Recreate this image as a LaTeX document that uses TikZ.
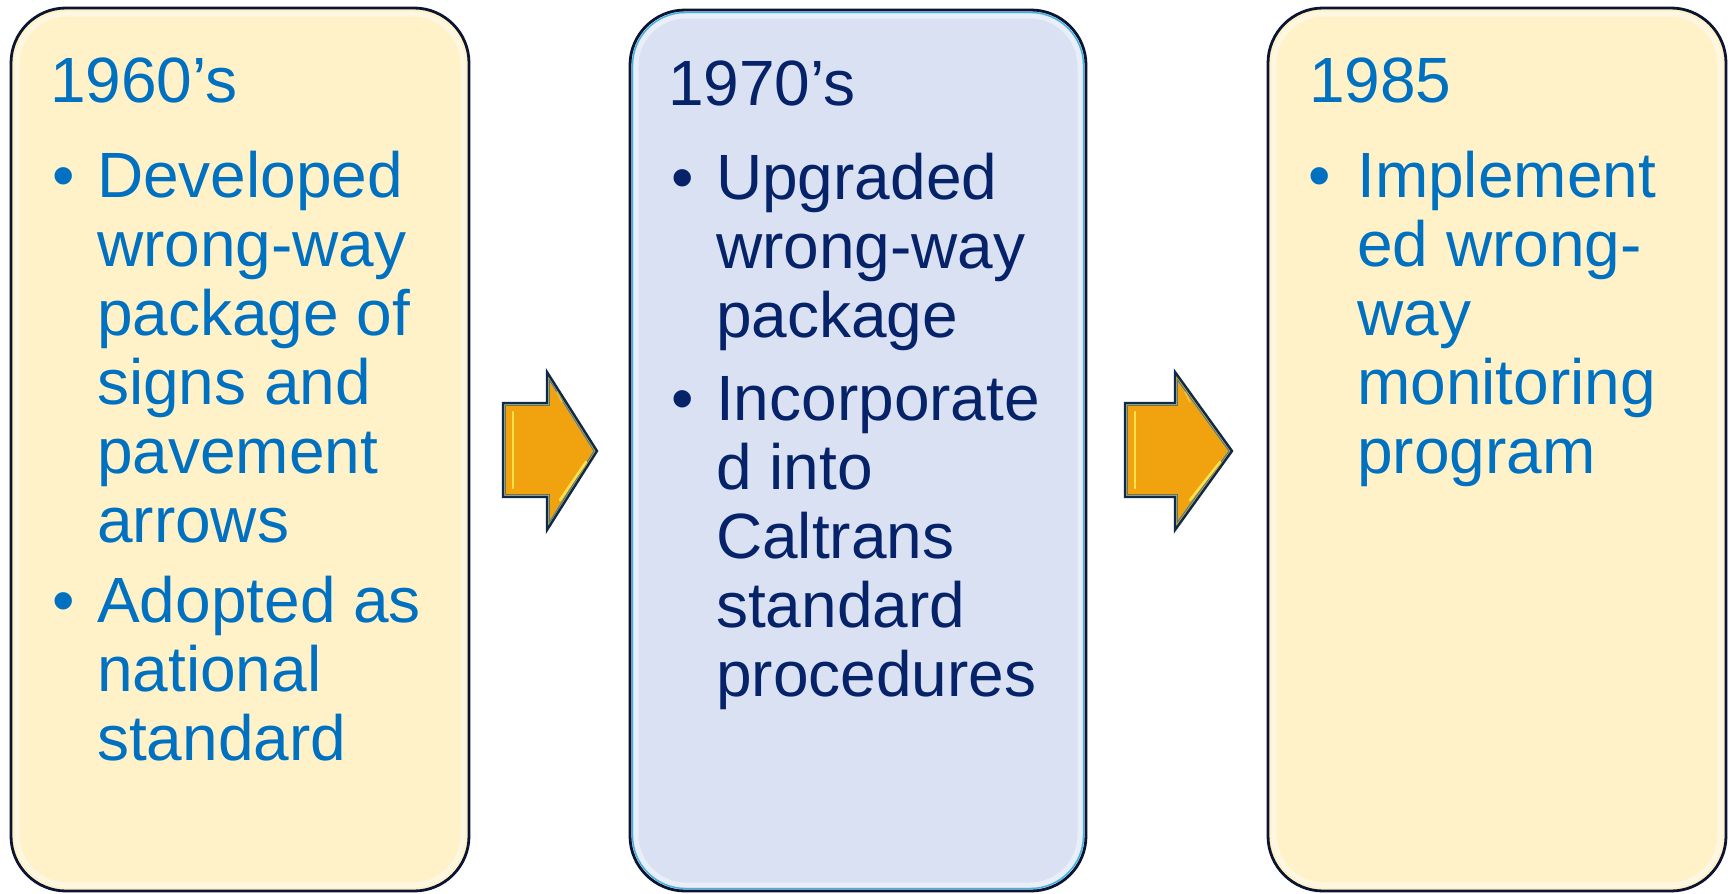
\documentclass[tikz,border=0pt]{standalone}
\usepackage{fontspec}
\setmainfont{Liberation Sans}
\definecolor{cream}{HTML}{FFF2C9}
\definecolor{paleblue}{HTML}{D9E1F3}
\definecolor{txtblue}{HTML}{0070C0}
\definecolor{txtnavy}{HTML}{062268}
\definecolor{edge}{HTML}{0B1533}
\definecolor{cyanedge}{HTML}{3FB2DE}
\definecolor{arrfill}{HTML}{F0A30F}
\definecolor{arrlight}{HTML}{FFE24A}
\definecolor{arredge}{HTML}{0E2A4A}
\definecolor{arrblue}{HTML}{2F7FC0}
\tikzset{
  panel/.style={draw=edge, line width=2.8pt, rounded corners=55pt},
  gloss/.style={draw=white, line width=5pt, opacity=0.45, rounded corners=50pt},
  line/.style={anchor=base west, inner sep=0pt, font=\fontsize{64}{69}\selectfont},
  bul/.style={anchor=base, inner sep=0pt, font=\fontsize{64}{69}\selectfont},
  blockarrow/.style={fill=arrfill, draw=arredge, line width=2.4pt, line join=miter},
}
\begin{document}
\begin{tikzpicture}[x=1pt, y=-1pt]
\useasboundingbox (0,0) rectangle (1733,894);
% panels
\draw[panel, fill=cream] (11,8) rectangle (469,891);
\draw[gloss] (17,14) rectangle (463,885);
\draw[panel, fill=paleblue] (630,10) rectangle (1086,891);
\draw[gloss] (636,16) rectangle (1080,885);
\draw[cyanedge, line width=1.4pt, rounded corners=53pt] (632.5,12.5) rectangle (1083.5,888.5);
\draw[panel, fill=cream] (1268,8) rectangle (1726,891);
\draw[gloss] (1274,14) rectangle (1720,885);
% block arrows
\draw[blockarrow] (503,403) -- (547,403) -- (547,372) -- (597,451) -- (547,530) -- (547,497) -- (503,497) -- cycle;
\draw[arrblue, line width=0.9pt, line join=miter] (505.5,405.5) -- (549.5,405.5) -- (549.5,380) -- (594,451) -- (549.5,522) -- (549.5,494.5) -- (505.5,494.5) -- cycle;
\draw[arrlight, line width=2.5pt, line cap=round] (513,412) -- (513,488);
\draw[arrlight, line width=2.5pt, line cap=round] (586,462) -- (560,500);
\draw[arrlight, line width=1.5pt, opacity=0.6, line cap=round] (557,392) -- (562,402);
\draw[blockarrow] (1125,403) -- (1175,403) -- (1175,372) -- (1232,451) -- (1175,530) -- (1175,497) -- (1125,497) -- cycle;
\draw[arrblue, line width=0.9pt, line join=miter] (1127.5,405.5) -- (1177.5,405.5) -- (1177.5,380) -- (1229,451) -- (1177.5,522) -- (1177.5,494.5) -- (1127.5,494.5) -- cycle;
\draw[arrlight, line width=2.5pt, line cap=round] (1135,412) -- (1135,488);
\draw[arrlight, line width=2.5pt, line cap=round] (1220,462) -- (1190,500);
\draw[arrlight, line width=1.5pt, opacity=0.6, line cap=round] (1185,392) -- (1190,402);
% panel 1 text
\node[line, text=txtblue] (t1) at (50,102) {1960’s};
\node[bul, text=txtblue] (b11) at (64,197) {•};
\node[bul, text=txtblue] (b12) at (64,622) {•};
\node[line, text=txtblue] (l11) at (97,197) {Developed};
\node[line, text=txtblue] (l12) at (97,266) {wrong-way};
\node[line, text=txtblue] (l13) at (97,335) {package of};
\node[line, text=txtblue] (l14) at (97,404) {signs and};
\node[line, text=txtblue] (l15) at (97,473) {pavement};
\node[line, text=txtblue] (l16) at (97,542) {arrows};
\node[line, text=txtblue] (l17) at (97,622) {Adopted as};
\node[line, text=txtblue] (l18) at (97,691) {national};
\node[line, text=txtblue] (l19) at (97,760) {standard};
% panel 2 text
\node[line, text=txtnavy] (t2) at (668,105) {1970’s};
\node[bul, text=txtnavy] (b21) at (683,199) {•};
\node[bul, text=txtnavy] (b22) at (683,420) {•};
\node[line, text=txtnavy] (l21) at (716,199) {Upgraded};
\node[line, text=txtnavy] (l22) at (716,268) {wrong-way};
\node[line, text=txtnavy] (l23) at (716,337) {package};
\node[line, text=txtnavy] (l24) at (716,420) {Incorporate};
\node[line, text=txtnavy] (l25) at (716,489) {d into};
\node[line, text=txtnavy] (l26) at (716,558) {Caltrans};
\node[line, text=txtnavy] (l27) at (716,627) {standard};
\node[line, text=txtnavy] (l28) at (716,696) {procedures};
% panel 3 text
\node[line, text=txtblue] (t3) at (1309,102) {1985};
\node[bul, text=txtblue] (b31) at (1320,197) {•};
\node[line, text=txtblue] (l31) at (1357,197) {Implement};
\node[line, text=txtblue] (l32) at (1357,266) {ed wrong-};
\node[line, text=txtblue] (l33) at (1357,335) {way};
\node[line, text=txtblue] (l34) at (1357,404) {monitoring};
\node[line, text=txtblue] (l35) at (1357,473) {program};
\end{tikzpicture}
\end{document}
